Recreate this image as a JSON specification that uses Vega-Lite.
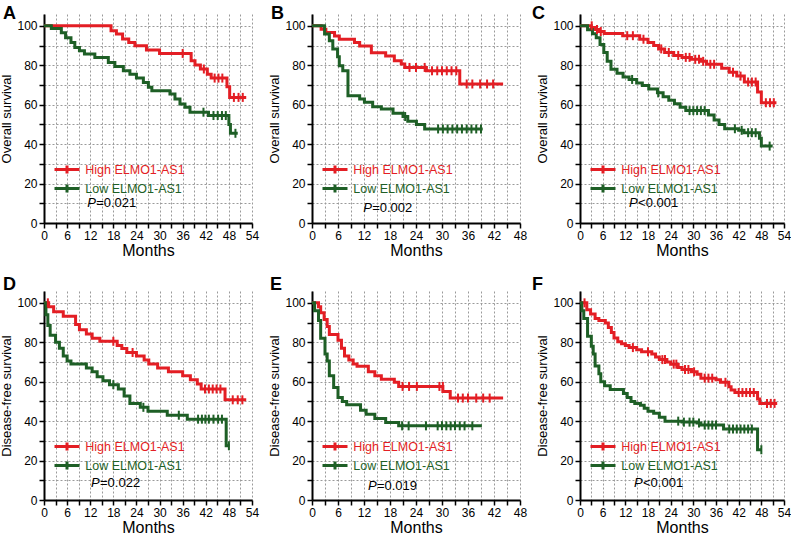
{
 "$schema": "https://vega.github.io/schema/vega-lite/v6.json",
 "background": "white",
 "padding": {"left": 0, "top": 4, "right": 1, "bottom": 2},
 "config": {
  "font": "Liberation Sans",
  "view": {"stroke": null},
  "axis": {"domainColor": "#000", "domainWidth": 2, "tickColor": "#000", "tickWidth": 1.5, "tickSize": 5, "labelFontSize": 12, "labelColor": "#000", "labelPadding": 2, "labelFlush": false, "labelOverlap": false, "titleColor": "#000", "titleFontWeight": "normal", "grid": true, "gridColor": "#9a9a9a", "gridDash": [2, 2], "gridWidth": 1, "tickCount": 100, "format": "d"},
  "axisX": {"titleFontSize": 16, "titlePadding": 1},
  "axisY": {"titleFontSize": 13, "titlePadding": 3},
  "title": {"anchor": "start", "frame": "group", "fontSize": 18, "fontWeight": "bold", "color": "#000", "baseline": "alphabetic", "offset": 0, "orient": "top"},
  "tick": {"thickness": 2, "size": 9, "opacity": 1},
  "text": {"fontSize": 13, "color": "#000"}
 },
 "datasets": {
  "steps": [
   {"panel":"A","group":"High","month":0,"surv":100},{"panel":"A","group":"High","month":17.4,"surv":97.5},{"panel":"A","group":"High","month":18.8,"surv":95.8},{"panel":"A","group":"High","month":20.4,"surv":93.3},{"panel":"A","group":"High","month":22,"surv":91.6},{"panel":"A","group":"High","month":23.6,"surv":89.9},{"panel":"A","group":"High","month":26.6,"surv":87.7},{"panel":"A","group":"High","month":30,"surv":86},{"panel":"A","group":"High","month":38.2,"surv":82.3},{"panel":"A","group":"High","month":39.2,"surv":80.1},{"panel":"A","group":"High","month":40.6,"surv":78.1},{"panel":"A","group":"High","month":42.4,"surv":75.5},{"panel":"A","group":"High","month":43.4,"surv":73.5},{"panel":"A","group":"High","month":47.5,"surv":69.1},{"panel":"A","group":"High","month":48.2,"surv":63.7},{"panel":"A","group":"High","month":52.5,"surv":63.7},
   {"panel":"A","group":"Low","month":0,"surv":100},{"panel":"A","group":"Low","month":1.9,"surv":98.6},{"panel":"A","group":"Low","month":4.5,"surv":96.5},{"panel":"A","group":"Low","month":5.6,"surv":94},{"panel":"A","group":"Low","month":7,"surv":91.5},{"panel":"A","group":"Low","month":8,"surv":89},{"panel":"A","group":"Low","month":9.2,"surv":87.3},{"panel":"A","group":"Low","month":10.5,"surv":85.7},{"panel":"A","group":"Low","month":13.2,"surv":84},{"panel":"A","group":"Low","month":16.7,"surv":81.4},{"panel":"A","group":"Low","month":18.4,"surv":79.4},{"panel":"A","group":"Low","month":20.6,"surv":77.2},{"panel":"A","group":"Low","month":22.3,"surv":75.5},{"panel":"A","group":"Low","month":24,"surv":73.5},{"panel":"A","group":"Low","month":25.8,"surv":71.3},{"panel":"A","group":"Low","month":27.1,"surv":68.8},{"panel":"A","group":"Low","month":28,"surv":67.1},{"panel":"A","group":"Low","month":32.7,"surv":65.4},{"panel":"A","group":"Low","month":34,"surv":62.9},{"panel":"A","group":"Low","month":35.3,"surv":60.4},{"panel":"A","group":"Low","month":36.6,"surv":58.7},{"panel":"A","group":"Low","month":37.9,"surv":56.2},{"panel":"A","group":"Low","month":42.7,"surv":54.5},{"panel":"A","group":"Low","month":48,"surv":50},{"panel":"A","group":"Low","month":48.4,"surv":45.5},{"panel":"A","group":"Low","month":50.3,"surv":45.5},
   {"panel":"B","group":"High","month":0,"surv":100},{"panel":"B","group":"High","month":2.1,"surv":98.3},{"panel":"B","group":"High","month":3.2,"surv":96.6},{"panel":"B","group":"High","month":5.2,"surv":94.9},{"panel":"B","group":"High","month":6.3,"surv":93.2},{"panel":"B","group":"High","month":9.8,"surv":91.5},{"panel":"B","group":"High","month":11,"surv":89.8},{"panel":"B","group":"High","month":13.7,"surv":86.4},{"panel":"B","group":"High","month":17,"surv":84.7},{"panel":"B","group":"High","month":19,"surv":82.3},{"panel":"B","group":"High","month":20.6,"surv":80.6},{"panel":"B","group":"High","month":21.4,"surv":78.9},{"panel":"B","group":"High","month":26.4,"surv":77.2},{"panel":"B","group":"High","month":34.1,"surv":70.5},{"panel":"B","group":"High","month":44.1,"surv":70.5},
   {"panel":"B","group":"Low","month":0,"surv":100},{"panel":"B","group":"Low","month":2.9,"surv":95.8},{"panel":"B","group":"Low","month":4,"surv":92.4},{"panel":"B","group":"Low","month":4.8,"surv":88.2},{"panel":"B","group":"Low","month":5.9,"surv":84.3},{"panel":"B","group":"Low","month":6.3,"surv":79.8},{"panel":"B","group":"Low","month":7.1,"surv":77.2},{"panel":"B","group":"Low","month":8.3,"surv":64.6},{"panel":"B","group":"Low","month":11,"surv":62.9},{"panel":"B","group":"Low","month":12.1,"surv":61.2},{"panel":"B","group":"Low","month":14,"surv":59},{"panel":"B","group":"Low","month":16,"surv":57.8},{"panel":"B","group":"Low","month":18.7,"surv":55.6},{"panel":"B","group":"Low","month":21,"surv":54},{"panel":"B","group":"Low","month":22.1,"surv":51.6},{"panel":"B","group":"Low","month":24.1,"surv":49.9},{"panel":"B","group":"Low","month":26,"surv":47.7},{"panel":"B","group":"Low","month":39.4,"surv":47.7},
   {"panel":"C","group":"High","month":0,"surv":100},{"panel":"C","group":"High","month":3,"surv":99.2},{"panel":"C","group":"High","month":4.1,"surv":98.1},{"panel":"C","group":"High","month":5,"surv":97.1},{"panel":"C","group":"High","month":6.4,"surv":96.1},{"panel":"C","group":"High","month":11.3,"surv":95},{"panel":"C","group":"High","month":15.8,"surv":93.2},{"panel":"C","group":"High","month":18,"surv":91.5},{"panel":"C","group":"High","month":19.5,"surv":90},{"panel":"C","group":"High","month":20.8,"surv":88.3},{"panel":"C","group":"High","month":22.4,"surv":86.5},{"panel":"C","group":"High","month":24.8,"surv":85},{"panel":"C","group":"High","month":27,"surv":84},{"panel":"C","group":"High","month":29.5,"surv":83},{"panel":"C","group":"High","month":32,"surv":82},{"panel":"C","group":"High","month":33.5,"surv":80.5},{"panel":"C","group":"High","month":37.5,"surv":78.5},{"panel":"C","group":"High","month":39.5,"surv":76.5},{"panel":"C","group":"High","month":41.5,"surv":74.5},{"panel":"C","group":"High","month":43.5,"surv":71.5},{"panel":"C","group":"High","month":47,"surv":66.5},{"panel":"C","group":"High","month":48,"surv":61},{"panel":"C","group":"High","month":52,"surv":61},
   {"panel":"C","group":"Low","month":0,"surv":100},{"panel":"C","group":"Low","month":2,"surv":98},{"panel":"C","group":"Low","month":3.3,"surv":96},{"panel":"C","group":"Low","month":4.3,"surv":94},{"panel":"C","group":"Low","month":5.3,"surv":90.5},{"panel":"C","group":"Low","month":6.3,"surv":86.5},{"panel":"C","group":"Low","month":7.2,"surv":82},{"panel":"C","group":"Low","month":8.2,"surv":78},{"panel":"C","group":"Low","month":9.8,"surv":76},{"panel":"C","group":"Low","month":11.4,"surv":74},{"panel":"C","group":"Low","month":13,"surv":72.8},{"panel":"C","group":"Low","month":15,"surv":71},{"panel":"C","group":"Low","month":16.5,"surv":69.8},{"panel":"C","group":"Low","month":18.2,"surv":68},{"panel":"C","group":"Low","month":20.5,"surv":66},{"panel":"C","group":"Low","month":22,"surv":64},{"panel":"C","group":"Low","month":23.5,"surv":62.2},{"panel":"C","group":"Low","month":25,"surv":60.5},{"panel":"C","group":"Low","month":26.5,"surv":58.7},{"panel":"C","group":"Low","month":28,"surv":57},{"panel":"C","group":"Low","month":34,"surv":54.8},{"panel":"C","group":"Low","month":35.5,"surv":52.2},{"panel":"C","group":"Low","month":36.8,"surv":50},{"panel":"C","group":"Low","month":38.3,"surv":47.8},{"panel":"C","group":"Low","month":42,"surv":47},{"panel":"C","group":"Low","month":43.4,"surv":45.8},{"panel":"C","group":"Low","month":47.5,"surv":43},{"panel":"C","group":"Low","month":48,"surv":39},{"panel":"C","group":"Low","month":51,"surv":39},
   {"panel":"D","group":"High","month":0,"surv":100},{"panel":"D","group":"High","month":1.2,"surv":98},{"panel":"D","group":"High","month":2.5,"surv":95.5},{"panel":"D","group":"High","month":5,"surv":93.2},{"panel":"D","group":"High","month":8.2,"surv":89},{"panel":"D","group":"High","month":9.2,"surv":86.4},{"panel":"D","group":"High","month":11,"surv":84.2},{"panel":"D","group":"High","month":12.5,"surv":82},{"panel":"D","group":"High","month":14.5,"surv":80.5},{"panel":"D","group":"High","month":19,"surv":78.4},{"panel":"D","group":"High","month":20.2,"surv":76.8},{"panel":"D","group":"High","month":21.5,"surv":74.8},{"panel":"D","group":"High","month":24,"surv":73},{"panel":"D","group":"High","month":26,"surv":71},{"panel":"D","group":"High","month":27.2,"surv":69},{"panel":"D","group":"High","month":29.5,"surv":67},{"panel":"D","group":"High","month":32.3,"surv":65},{"panel":"D","group":"High","month":36,"surv":63},{"panel":"D","group":"High","month":38,"surv":61},{"panel":"D","group":"High","month":39.8,"surv":58.8},{"panel":"D","group":"High","month":40.8,"surv":56.3},{"panel":"D","group":"High","month":47,"surv":50.8},{"panel":"D","group":"High","month":52.5,"surv":50.8},
   {"panel":"D","group":"Low","month":0,"surv":100},{"panel":"D","group":"Low","month":0.5,"surv":94},{"panel":"D","group":"Low","month":1,"surv":88.5},{"panel":"D","group":"Low","month":1.6,"surv":83.5},{"panel":"D","group":"Low","month":3,"surv":80},{"panel":"D","group":"Low","month":4,"surv":77},{"panel":"D","group":"Low","month":5,"surv":73},{"panel":"D","group":"Low","month":6,"surv":70.5},{"panel":"D","group":"Low","month":7,"surv":69},{"panel":"D","group":"Low","month":11,"surv":67},{"panel":"D","group":"Low","month":12.5,"surv":65},{"panel":"D","group":"Low","month":13.8,"surv":62.5},{"panel":"D","group":"Low","month":15.3,"surv":60.5},{"panel":"D","group":"Low","month":17,"surv":58.5},{"panel":"D","group":"Low","month":19.3,"surv":56.3},{"panel":"D","group":"Low","month":20.8,"surv":52.8},{"panel":"D","group":"Low","month":22.3,"surv":49},{"panel":"D","group":"Low","month":25,"surv":47},{"panel":"D","group":"Low","month":27,"surv":45},{"panel":"D","group":"Low","month":32,"surv":43},{"panel":"D","group":"Low","month":37.2,"surv":41},{"panel":"D","group":"Low","month":47.3,"surv":27.5},{"panel":"D","group":"Low","month":48.2,"surv":27.5},
   {"panel":"E","group":"High","month":0,"surv":100},{"panel":"E","group":"High","month":1.5,"surv":98},{"panel":"E","group":"High","month":2,"surv":95},{"panel":"E","group":"High","month":2.8,"surv":91.5},{"panel":"E","group":"High","month":3.5,"surv":88},{"panel":"E","group":"High","month":4,"surv":84},{"panel":"E","group":"High","month":6,"surv":81},{"panel":"E","group":"High","month":6.8,"surv":77},{"panel":"E","group":"High","month":7.5,"surv":73},{"panel":"E","group":"High","month":8.5,"surv":71},{"panel":"E","group":"High","month":9.5,"surv":69},{"panel":"E","group":"High","month":10.4,"surv":67.8},{"panel":"E","group":"High","month":13,"surv":65},{"panel":"E","group":"High","month":14.5,"surv":63},{"panel":"E","group":"High","month":16,"surv":61.3},{"panel":"E","group":"High","month":19,"surv":59.7},{"panel":"E","group":"High","month":20,"surv":57.6},{"panel":"E","group":"High","month":30.2,"surv":55},{"panel":"E","group":"High","month":31.9,"surv":51.7},{"panel":"E","group":"High","month":44.1,"surv":51.7},
   {"panel":"E","group":"Low","month":0,"surv":100},{"panel":"E","group":"Low","month":0.6,"surv":96},{"panel":"E","group":"Low","month":1.5,"surv":91},{"panel":"E","group":"Low","month":2,"surv":82},{"panel":"E","group":"Low","month":3,"surv":74},{"panel":"E","group":"Low","month":3.5,"surv":70.5},{"panel":"E","group":"Low","month":4,"surv":63},{"panel":"E","group":"Low","month":5,"surv":57},{"panel":"E","group":"Low","month":6,"surv":52},{"panel":"E","group":"Low","month":7,"surv":50},{"panel":"E","group":"Low","month":8,"surv":48.3},{"panel":"E","group":"Low","month":11.2,"surv":45.5},{"panel":"E","group":"Low","month":12.5,"surv":43.5},{"panel":"E","group":"Low","month":14.5,"surv":41.3},{"panel":"E","group":"Low","month":17,"surv":39.3},{"panel":"E","group":"Low","month":20,"surv":37.6},{"panel":"E","group":"Low","month":39.2,"surv":37.6},
   {"panel":"F","group":"High","month":0,"surv":100},{"panel":"F","group":"High","month":1.8,"surv":96.5},{"panel":"F","group":"High","month":2.8,"surv":94.3},{"panel":"F","group":"High","month":4,"surv":92},{"panel":"F","group":"High","month":5,"surv":91},{"panel":"F","group":"High","month":6.7,"surv":89.8},{"panel":"F","group":"High","month":7.5,"surv":87.5},{"panel":"F","group":"High","month":8.3,"surv":85},{"panel":"F","group":"High","month":9,"surv":82.2},{"panel":"F","group":"High","month":10,"surv":80.2},{"panel":"F","group":"High","month":11,"surv":79.3},{"panel":"F","group":"High","month":12,"surv":78.3},{"panel":"F","group":"High","month":13,"surv":77.3},{"panel":"F","group":"High","month":15,"surv":76.2},{"panel":"F","group":"High","month":16.3,"surv":75.2},{"panel":"F","group":"High","month":19,"surv":74},{"panel":"F","group":"High","month":20,"surv":72.5},{"panel":"F","group":"High","month":21,"surv":71.2},{"panel":"F","group":"High","month":23,"surv":70},{"panel":"F","group":"High","month":24,"surv":68.9},{"panel":"F","group":"High","month":26,"surv":67.2},{"panel":"F","group":"High","month":27,"surv":66.2},{"panel":"F","group":"High","month":29.5,"surv":65},{"panel":"F","group":"High","month":31,"surv":63.8},{"panel":"F","group":"High","month":32,"surv":61.8},{"panel":"F","group":"High","month":36,"surv":61},{"panel":"F","group":"High","month":37.2,"surv":59.7},{"panel":"F","group":"High","month":39.4,"surv":57.5},{"panel":"F","group":"High","month":40,"surv":55.8},{"panel":"F","group":"High","month":41,"surv":54.5},{"panel":"F","group":"High","month":47,"surv":51.2},{"panel":"F","group":"High","month":47.6,"surv":49},{"panel":"F","group":"High","month":52.2,"surv":49},
   {"panel":"F","group":"Low","month":0,"surv":100},{"panel":"F","group":"Low","month":0.5,"surv":96},{"panel":"F","group":"Low","month":1,"surv":92},{"panel":"F","group":"Low","month":2,"surv":83},{"panel":"F","group":"Low","month":3,"surv":78},{"panel":"F","group":"Low","month":3.5,"surv":74},{"panel":"F","group":"Low","month":4,"surv":68},{"panel":"F","group":"Low","month":5,"surv":64},{"panel":"F","group":"Low","month":5.5,"surv":60},{"panel":"F","group":"Low","month":6.5,"surv":58},{"panel":"F","group":"Low","month":8,"surv":56},{"panel":"F","group":"Low","month":11.5,"surv":54},{"panel":"F","group":"Low","month":12.5,"surv":52},{"panel":"F","group":"Low","month":13.5,"surv":50},{"panel":"F","group":"Low","month":14.5,"surv":49},{"panel":"F","group":"Low","month":16,"surv":48},{"panel":"F","group":"Low","month":17,"surv":46.5},{"panel":"F","group":"Low","month":18,"surv":45},{"panel":"F","group":"Low","month":19.5,"surv":44},{"panel":"F","group":"Low","month":21,"surv":42},{"panel":"F","group":"Low","month":22.5,"surv":40},{"panel":"F","group":"Low","month":27,"surv":39.5},{"panel":"F","group":"Low","month":31,"surv":39},{"panel":"F","group":"Low","month":32,"surv":38},{"panel":"F","group":"Low","month":38,"surv":36},{"panel":"F","group":"Low","month":47,"surv":25.5},{"panel":"F","group":"Low","month":48,"surv":25.5}
  ],
  "censor": [
   {"panel":"A","group":"High","month":36,"surv":86},{"panel":"A","group":"High","month":41.5,"surv":78.1},{"panel":"A","group":"High","month":44.3,"surv":73.5},{"panel":"A","group":"High","month":45.3,"surv":73.5},{"panel":"A","group":"High","month":46.3,"surv":73.5},{"panel":"A","group":"High","month":49.3,"surv":63.7},{"panel":"A","group":"High","month":50.5,"surv":63.7},{"panel":"A","group":"High","month":51.6,"surv":63.7},
   {"panel":"A","group":"Low","month":41.4,"surv":56.2},{"panel":"A","group":"Low","month":44,"surv":54.5},{"panel":"A","group":"Low","month":45.1,"surv":54.5},{"panel":"A","group":"Low","month":46.2,"surv":54.5},{"panel":"A","group":"Low","month":47.2,"surv":54.5},{"panel":"A","group":"Low","month":49.7,"surv":45.5},
   {"panel":"B","group":"High","month":22.5,"surv":78.9},{"panel":"B","group":"High","month":24,"surv":78.9},{"panel":"B","group":"High","month":26,"surv":78.9},{"panel":"B","group":"High","month":27.7,"surv":77.2},{"panel":"B","group":"High","month":28.9,"surv":77.2},{"panel":"B","group":"High","month":30,"surv":77.2},{"panel":"B","group":"High","month":31.1,"surv":77.2},{"panel":"B","group":"High","month":32.2,"surv":77.2},{"panel":"B","group":"High","month":33.3,"surv":77.2},{"panel":"B","group":"High","month":35.7,"surv":70.5},{"panel":"B","group":"High","month":37,"surv":70.5},{"panel":"B","group":"High","month":38.8,"surv":70.5},{"panel":"B","group":"High","month":40.4,"surv":70.5},{"panel":"B","group":"High","month":41.8,"surv":70.5},
   {"panel":"B","group":"Low","month":21.5,"surv":54},{"panel":"B","group":"Low","month":29.1,"surv":47.7},{"panel":"B","group":"Low","month":30.2,"surv":47.7},{"panel":"B","group":"Low","month":31.3,"surv":47.7},{"panel":"B","group":"Low","month":32.4,"surv":47.7},{"panel":"B","group":"Low","month":33.5,"surv":47.7},{"panel":"B","group":"Low","month":34.6,"surv":47.7},{"panel":"B","group":"Low","month":35.7,"surv":47.7},{"panel":"B","group":"Low","month":36.8,"surv":47.7},{"panel":"B","group":"Low","month":37.9,"surv":47.7},{"panel":"B","group":"Low","month":39,"surv":47.7},
   {"panel":"C","group":"High","month":3.1,"surv":100},{"panel":"C","group":"High","month":4.5,"surv":98.1},{"panel":"C","group":"High","month":5.5,"surv":97.1},{"panel":"C","group":"High","month":12.5,"surv":95},{"panel":"C","group":"High","month":14,"surv":95},{"panel":"C","group":"High","month":16.8,"surv":93.2},{"panel":"C","group":"High","month":21.5,"surv":88.3},{"panel":"C","group":"High","month":23.5,"surv":86.5},{"panel":"C","group":"High","month":26,"surv":85},{"panel":"C","group":"High","month":28,"surv":84},{"panel":"C","group":"High","month":29,"surv":84},{"panel":"C","group":"High","month":30.5,"surv":83},{"panel":"C","group":"High","month":31.5,"surv":83},{"panel":"C","group":"High","month":32.6,"surv":82},{"panel":"C","group":"High","month":34.5,"surv":80.5},{"panel":"C","group":"High","month":35.5,"surv":80.5},{"panel":"C","group":"High","month":40.5,"surv":76.5},{"panel":"C","group":"High","month":42.5,"surv":74.5},{"panel":"C","group":"High","month":44.5,"surv":71.5},{"panel":"C","group":"High","month":45.5,"surv":71.5},{"panel":"C","group":"High","month":46.5,"surv":71.5},{"panel":"C","group":"High","month":49.2,"surv":61},{"panel":"C","group":"High","month":50.3,"surv":61},{"panel":"C","group":"High","month":51.3,"surv":61},
   {"panel":"C","group":"Low","month":13.8,"surv":72.8},{"panel":"C","group":"Low","month":20.7,"surv":66},{"panel":"C","group":"Low","month":29,"surv":57},{"panel":"C","group":"Low","month":30,"surv":57},{"panel":"C","group":"Low","month":31,"surv":57},{"panel":"C","group":"Low","month":32,"surv":57},{"panel":"C","group":"Low","month":33,"surv":57},{"panel":"C","group":"Low","month":41,"surv":47.8},{"panel":"C","group":"Low","month":42.8,"surv":47},{"panel":"C","group":"Low","month":44.5,"surv":45.8},{"panel":"C","group":"Low","month":45.5,"surv":45.8},{"panel":"C","group":"Low","month":46.5,"surv":45.8},{"panel":"C","group":"Low","month":50.2,"surv":39},
   {"panel":"D","group":"High","month":1,"surv":100},{"panel":"D","group":"High","month":18,"surv":80.5},{"panel":"D","group":"High","month":23,"surv":74.8},{"panel":"D","group":"High","month":41.8,"surv":56.3},{"panel":"D","group":"High","month":42.8,"surv":56.3},{"panel":"D","group":"High","month":43.8,"surv":56.3},{"panel":"D","group":"High","month":44.8,"surv":56.3},{"panel":"D","group":"High","month":45.8,"surv":56.3},{"panel":"D","group":"High","month":49,"surv":50.8},{"panel":"D","group":"High","month":50.3,"surv":50.8},{"panel":"D","group":"High","month":51.5,"surv":50.8},
   {"panel":"D","group":"Low","month":18,"surv":58.5},{"panel":"D","group":"Low","month":25.8,"surv":47},{"panel":"D","group":"Low","month":35,"surv":43},{"panel":"D","group":"Low","month":40,"surv":41},{"panel":"D","group":"Low","month":41,"surv":41},{"panel":"D","group":"Low","month":41.9,"surv":41},{"panel":"D","group":"Low","month":42.8,"surv":41},{"panel":"D","group":"Low","month":44,"surv":41},{"panel":"D","group":"Low","month":45.2,"surv":41},{"panel":"D","group":"Low","month":46.2,"surv":41},{"panel":"D","group":"Low","month":48,"surv":27.5},
   {"panel":"E","group":"High","month":20.9,"surv":57.6},{"panel":"E","group":"High","month":22.4,"surv":57.6},{"panel":"E","group":"High","month":24.2,"surv":57.6},{"panel":"E","group":"High","month":29.4,"surv":57.6},{"panel":"E","group":"High","month":30.2,"surv":57.6},{"panel":"E","group":"High","month":33.7,"surv":51.7},{"panel":"E","group":"High","month":34.8,"surv":51.7},{"panel":"E","group":"High","month":36,"surv":51.7},{"panel":"E","group":"High","month":37.9,"surv":51.7},{"panel":"E","group":"High","month":39.5,"surv":51.7},{"panel":"E","group":"High","month":41,"surv":51.7},
   {"panel":"E","group":"Low","month":20.8,"surv":37.6},{"panel":"E","group":"Low","month":22.3,"surv":37.6},{"panel":"E","group":"Low","month":26.3,"surv":37.6},{"panel":"E","group":"Low","month":29,"surv":37.6},{"panel":"E","group":"Low","month":30,"surv":37.6},{"panel":"E","group":"Low","month":31,"surv":37.6},{"panel":"E","group":"Low","month":32,"surv":37.6},{"panel":"E","group":"Low","month":33,"surv":37.6},{"panel":"E","group":"Low","month":34.1,"surv":37.6},{"panel":"E","group":"Low","month":35.2,"surv":37.6},{"panel":"E","group":"Low","month":37,"surv":37.6},
   {"panel":"F","group":"High","month":1.2,"surv":100},{"panel":"F","group":"High","month":14,"surv":77.3},{"panel":"F","group":"High","month":18,"surv":75.2},{"panel":"F","group":"High","month":21.8,"surv":71.2},{"panel":"F","group":"High","month":22.5,"surv":71.2},{"panel":"F","group":"High","month":24.8,"surv":68.9},{"panel":"F","group":"High","month":25.5,"surv":68.9},{"panel":"F","group":"High","month":27.8,"surv":66.2},{"panel":"F","group":"High","month":28.7,"surv":66.2},{"panel":"F","group":"High","month":30.2,"surv":65},{"panel":"F","group":"High","month":33,"surv":61.8},{"panel":"F","group":"High","month":34,"surv":61.8},{"panel":"F","group":"High","month":35,"surv":61.8},{"panel":"F","group":"High","month":38.5,"surv":59.7},{"panel":"F","group":"High","month":42,"surv":54.5},{"panel":"F","group":"High","month":43,"surv":54.5},{"panel":"F","group":"High","month":44,"surv":54.5},{"panel":"F","group":"High","month":45,"surv":54.5},{"panel":"F","group":"High","month":46,"surv":54.5},{"panel":"F","group":"High","month":49.5,"surv":49},{"panel":"F","group":"High","month":50.5,"surv":49},{"panel":"F","group":"High","month":51.5,"surv":49},
   {"panel":"F","group":"Low","month":26,"surv":40},{"panel":"F","group":"Low","month":27.5,"surv":39.5},{"panel":"F","group":"Low","month":29,"surv":39.5},{"panel":"F","group":"Low","month":30,"surv":39.5},{"panel":"F","group":"Low","month":31.5,"surv":39},{"panel":"F","group":"Low","month":33,"surv":38},{"panel":"F","group":"Low","month":34,"surv":38},{"panel":"F","group":"Low","month":35,"surv":38},{"panel":"F","group":"Low","month":36,"surv":38},{"panel":"F","group":"Low","month":39.5,"surv":36},{"panel":"F","group":"Low","month":40.5,"surv":36},{"panel":"F","group":"Low","month":41.5,"surv":36},{"panel":"F","group":"Low","month":42.5,"surv":36},{"panel":"F","group":"Low","month":43.5,"surv":36},{"panel":"F","group":"Low","month":44.5,"surv":36},{"panel":"F","group":"Low","month":45.5,"surv":36},{"panel":"F","group":"Low","month":48,"surv":25.5}
  ],
  "pvalues": [
   {"panel":"A","label":"=0.021"},{"panel":"B","label":"=0.002"},{"panel":"C","label":"<0.001"},
   {"panel":"D","label":"=0.022"},{"panel":"E","label":"=0.019"},{"panel":"F","label":"<0.001"}
  ]
 },
 "columns": 3,
 "spacing": {"row": 68, "column": 60},
 "bounds": "flush",
 "resolve": {"scale": {"color": "independent"}, "legend": {"color": "independent"}},
 "concat": [
    {
     "width": 208, "height": 209,
     "title": {"text": "A", "dx": -41, "dy": 12.5},
     "layer": [
      {"data": {"name": "steps"}, "transform": [{"filter": "datum.panel === 'A'"}],
       "mark": {"type": "line", "interpolate": "step-after", "strokeWidth": 3},
       "encoding": {
        "x": {"field": "month", "type": "quantitative", "scale": {"domain": [0, 54], "nice": false}, "axis": {"values": [0,3,6,9,12,15,18,21,24,27,30,33,36,39,42,45,48,51,54], "tickCount": 100, "format": "d", "labelExpr": "datum.value % 6 === 0 ? datum.label : ''", "labelOverlap": false, "labelFlush": false, "title": "Months"}},
        "y": {"field": "surv", "type": "quantitative", "scale": {"domain": [0, 106], "nice": false}, "axis": {"values": [0,10,20,30,40,50,60,70,80,90,100], "tickCount": 100, "format": "d", "labelExpr": "datum.value % 20 === 0 ? datum.label : ''", "labelOverlap": false, "labelFlush": false, "title": "Overall survival"}},
        "color": {"field": "group", "type": "nominal", "scale": {"domain": ["High", "Low"], "range": ["#e31e24", "#1e5f26"]},
         "legend": {"title": null, "orient": "none", "legendX": 15, "legendY": 147.5, "symbolType": "M-2,0H2M0,-0.65V0.65", "symbolSize": 156.25, "symbolStrokeWidth": 3, "labelFontSize": 12.5, "labelOffset": 10.25, "rowPadding": -3, "padding": 0, "labelExpr": "datum.label + ' ELMO1-AS1'", "encode": {"labels": {"update": {"fill": {"signal": "datum.value === 'High' ? '#e31e24' : '#1e5f26'"}}}}}}
       }},
      {"data": {"name": "censor"}, "transform": [{"filter": "datum.panel === 'A'"}],
       "mark": {"type": "tick", "orient": "vertical"},
       "encoding": {"x": {"field": "month", "type": "quantitative"}, "y": {"field": "surv", "type": "quantitative"}, "color": {"field": "group", "type": "nominal", "legend": null}}},
      {"data": {"name": "pvalues"}, "transform": [{"filter": "datum.panel === 'A'"}],
       "mark": {"type": "text", "text": "P", "fontStyle": "italic", "align": "left", "baseline": "middle"},
       "encoding": {"x": {"datum": 11.2}, "y": {"datum": 10}}},
      {"data": {"name": "pvalues"}, "transform": [{"filter": "datum.panel === 'A'"}],
       "mark": {"type": "text", "align": "left", "baseline": "middle", "dx": 9},
       "encoding": {"x": {"datum": 11.2}, "y": {"datum": 10}, "text": {"field": "label"}}}
     ]
    },
    {
     "width": 208, "height": 209,
     "title": {"text": "B", "dx": -41, "dy": 12.5},
     "layer": [
      {"data": {"name": "steps"}, "transform": [{"filter": "datum.panel === 'B'"}],
       "mark": {"type": "line", "interpolate": "step-after", "strokeWidth": 3},
       "encoding": {
        "x": {"field": "month", "type": "quantitative", "scale": {"domain": [0, 48], "nice": false}, "axis": {"values": [0,3,6,9,12,15,18,21,24,27,30,33,36,39,42,45,48], "tickCount": 100, "format": "d", "labelExpr": "datum.value % 6 === 0 ? datum.label : ''", "labelOverlap": false, "labelFlush": false, "title": "Months"}},
        "y": {"field": "surv", "type": "quantitative", "scale": {"domain": [0, 106], "nice": false}, "axis": {"values": [0,10,20,30,40,50,60,70,80,90,100], "tickCount": 100, "format": "d", "labelExpr": "datum.value % 20 === 0 ? datum.label : ''", "labelOverlap": false, "labelFlush": false, "title": "Overall survival"}},
        "color": {"field": "group", "type": "nominal", "scale": {"domain": ["High", "Low"], "range": ["#e31e24", "#1e5f26"]},
         "legend": {"title": null, "orient": "none", "legendX": 15, "legendY": 147.5, "symbolType": "M-2,0H2M0,-0.65V0.65", "symbolSize": 156.25, "symbolStrokeWidth": 3, "labelFontSize": 12.5, "labelOffset": 10.25, "rowPadding": -3, "padding": 0, "labelExpr": "datum.label + ' ELMO1-AS1'", "encode": {"labels": {"update": {"fill": {"signal": "datum.value === 'High' ? '#e31e24' : '#1e5f26'"}}}}}}
       }},
      {"data": {"name": "censor"}, "transform": [{"filter": "datum.panel === 'B'"}],
       "mark": {"type": "tick", "orient": "vertical"},
       "encoding": {"x": {"field": "month", "type": "quantitative"}, "y": {"field": "surv", "type": "quantitative"}, "color": {"field": "group", "type": "nominal", "legend": null}}},
      {"data": {"name": "pvalues"}, "transform": [{"filter": "datum.panel === 'B'"}],
       "mark": {"type": "text", "text": "P", "fontStyle": "italic", "align": "left", "baseline": "middle"},
       "encoding": {"x": {"datum": 11.8}, "y": {"datum": 7.5}}},
      {"data": {"name": "pvalues"}, "transform": [{"filter": "datum.panel === 'B'"}],
       "mark": {"type": "text", "align": "left", "baseline": "middle", "dx": 9},
       "encoding": {"x": {"datum": 11.8}, "y": {"datum": 7.5}, "text": {"field": "label"}}}
     ]
    },
    {
     "width": 204, "height": 209,
     "title": {"text": "C", "dx": -48, "dy": 12.5},
     "layer": [
      {"data": {"name": "steps"}, "transform": [{"filter": "datum.panel === 'C'"}],
       "mark": {"type": "line", "interpolate": "step-after", "strokeWidth": 3},
       "encoding": {
        "x": {"field": "month", "type": "quantitative", "scale": {"domain": [0, 54], "nice": false}, "axis": {"values": [0,3,6,9,12,15,18,21,24,27,30,33,36,39,42,45,48,51,54], "tickCount": 100, "format": "d", "labelExpr": "datum.value % 6 === 0 ? datum.label : ''", "labelOverlap": false, "labelFlush": false, "title": "Months"}},
        "y": {"field": "surv", "type": "quantitative", "scale": {"domain": [0, 106], "nice": false}, "axis": {"values": [0,10,20,30,40,50,60,70,80,90,100], "tickCount": 100, "format": "d", "labelExpr": "datum.value % 20 === 0 ? datum.label : ''", "labelOverlap": false, "labelFlush": false, "title": "Overall survival"}},
        "color": {"field": "group", "type": "nominal", "scale": {"domain": ["High", "Low"], "range": ["#e31e24", "#1e5f26"]},
         "legend": {"title": null, "orient": "none", "legendX": 15, "legendY": 147.5, "symbolType": "M-2,0H2M0,-0.65V0.65", "symbolSize": 156.25, "symbolStrokeWidth": 3, "labelFontSize": 12.5, "labelOffset": 10.25, "rowPadding": -3, "padding": 0, "labelExpr": "datum.label + ' ELMO1-AS1'", "encode": {"labels": {"update": {"fill": {"signal": "datum.value === 'High' ? '#e31e24' : '#1e5f26'"}}}}}}
       }},
      {"data": {"name": "censor"}, "transform": [{"filter": "datum.panel === 'C'"}],
       "mark": {"type": "tick", "orient": "vertical"},
       "encoding": {"x": {"field": "month", "type": "quantitative"}, "y": {"field": "surv", "type": "quantitative"}, "color": {"field": "group", "type": "nominal", "legend": null}}},
      {"data": {"name": "pvalues"}, "transform": [{"filter": "datum.panel === 'C'"}],
       "mark": {"type": "text", "text": "P", "fontStyle": "italic", "align": "left", "baseline": "middle"},
       "encoding": {"x": {"datum": 13}, "y": {"datum": 10}}},
      {"data": {"name": "pvalues"}, "transform": [{"filter": "datum.panel === 'C'"}],
       "mark": {"type": "text", "align": "left", "baseline": "middle", "dx": 9},
       "encoding": {"x": {"datum": 13}, "y": {"datum": 10}, "text": {"field": "label"}}}
     ]
    },
    {
     "width": 208, "height": 209,
     "title": {"text": "D", "dx": -41, "dy": 7},
     "layer": [
      {"data": {"name": "steps"}, "transform": [{"filter": "datum.panel === 'D'"}],
       "mark": {"type": "line", "interpolate": "step-after", "strokeWidth": 3},
       "encoding": {
        "x": {"field": "month", "type": "quantitative", "scale": {"domain": [0, 54], "nice": false}, "axis": {"values": [0,3,6,9,12,15,18,21,24,27,30,33,36,39,42,45,48,51,54], "tickCount": 100, "format": "d", "labelExpr": "datum.value % 6 === 0 ? datum.label : ''", "labelOverlap": false, "labelFlush": false, "title": "Months"}},
        "y": {"field": "surv", "type": "quantitative", "scale": {"domain": [0, 106], "nice": false}, "axis": {"values": [0,10,20,30,40,50,60,70,80,90,100], "tickCount": 100, "format": "d", "labelExpr": "datum.value % 20 === 0 ? datum.label : ''", "labelOverlap": false, "labelFlush": false, "title": "Disease-free survival"}},
        "color": {"field": "group", "type": "nominal", "scale": {"domain": ["High", "Low"], "range": ["#e31e24", "#1e5f26"]},
         "legend": {"title": null, "orient": "none", "legendX": 15, "legendY": 147.5, "symbolType": "M-2,0H2M0,-0.65V0.65", "symbolSize": 156.25, "symbolStrokeWidth": 3, "labelFontSize": 12.5, "labelOffset": 10.25, "rowPadding": -3, "padding": 0, "labelExpr": "datum.label + ' ELMO1-AS1'", "encode": {"labels": {"update": {"fill": {"signal": "datum.value === 'High' ? '#e31e24' : '#1e5f26'"}}}}}}
       }},
      {"data": {"name": "censor"}, "transform": [{"filter": "datum.panel === 'D'"}],
       "mark": {"type": "tick", "orient": "vertical"},
       "encoding": {"x": {"field": "month", "type": "quantitative"}, "y": {"field": "surv", "type": "quantitative"}, "color": {"field": "group", "type": "nominal", "legend": null}}},
      {"data": {"name": "pvalues"}, "transform": [{"filter": "datum.panel === 'D'"}],
       "mark": {"type": "text", "text": "P", "fontStyle": "italic", "align": "left", "baseline": "middle"},
       "encoding": {"x": {"datum": 12.2}, "y": {"datum": 8.6}}},
      {"data": {"name": "pvalues"}, "transform": [{"filter": "datum.panel === 'D'"}],
       "mark": {"type": "text", "align": "left", "baseline": "middle", "dx": 9},
       "encoding": {"x": {"datum": 12.2}, "y": {"datum": 8.6}, "text": {"field": "label"}}}
     ]
    },
    {
     "width": 208, "height": 209,
     "title": {"text": "E", "dx": -42, "dy": 7},
     "layer": [
      {"data": {"name": "steps"}, "transform": [{"filter": "datum.panel === 'E'"}],
       "mark": {"type": "line", "interpolate": "step-after", "strokeWidth": 3},
       "encoding": {
        "x": {"field": "month", "type": "quantitative", "scale": {"domain": [0, 48], "nice": false}, "axis": {"values": [0,3,6,9,12,15,18,21,24,27,30,33,36,39,42,45,48], "tickCount": 100, "format": "d", "labelExpr": "datum.value % 6 === 0 ? datum.label : ''", "labelOverlap": false, "labelFlush": false, "title": "Months"}},
        "y": {"field": "surv", "type": "quantitative", "scale": {"domain": [0, 106], "nice": false}, "axis": {"values": [0,10,20,30,40,50,60,70,80,90,100], "tickCount": 100, "format": "d", "labelExpr": "datum.value % 20 === 0 ? datum.label : ''", "labelOverlap": false, "labelFlush": false, "title": "Disease-free survival"}},
        "color": {"field": "group", "type": "nominal", "scale": {"domain": ["High", "Low"], "range": ["#e31e24", "#1e5f26"]},
         "legend": {"title": null, "orient": "none", "legendX": 15, "legendY": 147.5, "symbolType": "M-2,0H2M0,-0.65V0.65", "symbolSize": 156.25, "symbolStrokeWidth": 3, "labelFontSize": 12.5, "labelOffset": 10.25, "rowPadding": -3, "padding": 0, "labelExpr": "datum.label + ' ELMO1-AS1'", "encode": {"labels": {"update": {"fill": {"signal": "datum.value === 'High' ? '#e31e24' : '#1e5f26'"}}}}}}
       }},
      {"data": {"name": "censor"}, "transform": [{"filter": "datum.panel === 'E'"}],
       "mark": {"type": "tick", "orient": "vertical"},
       "encoding": {"x": {"field": "month", "type": "quantitative"}, "y": {"field": "surv", "type": "quantitative"}, "color": {"field": "group", "type": "nominal", "legend": null}}},
      {"data": {"name": "pvalues"}, "transform": [{"filter": "datum.panel === 'E'"}],
       "mark": {"type": "text", "text": "P", "fontStyle": "italic", "align": "left", "baseline": "middle"},
       "encoding": {"x": {"datum": 12.9}, "y": {"datum": 7}}},
      {"data": {"name": "pvalues"}, "transform": [{"filter": "datum.panel === 'E'"}],
       "mark": {"type": "text", "align": "left", "baseline": "middle", "dx": 9},
       "encoding": {"x": {"datum": 12.9}, "y": {"datum": 7}, "text": {"field": "label"}}}
     ]
    },
    {
     "width": 204, "height": 209,
     "title": {"text": "F", "dx": -48, "dy": 7},
     "layer": [
      {"data": {"name": "steps"}, "transform": [{"filter": "datum.panel === 'F'"}],
       "mark": {"type": "line", "interpolate": "step-after", "strokeWidth": 3},
       "encoding": {
        "x": {"field": "month", "type": "quantitative", "scale": {"domain": [0, 54], "nice": false}, "axis": {"values": [0,3,6,9,12,15,18,21,24,27,30,33,36,39,42,45,48,51,54], "tickCount": 100, "format": "d", "labelExpr": "datum.value % 6 === 0 ? datum.label : ''", "labelOverlap": false, "labelFlush": false, "title": "Months"}},
        "y": {"field": "surv", "type": "quantitative", "scale": {"domain": [0, 106], "nice": false}, "axis": {"values": [0,10,20,30,40,50,60,70,80,90,100], "tickCount": 100, "format": "d", "labelExpr": "datum.value % 20 === 0 ? datum.label : ''", "labelOverlap": false, "labelFlush": false, "title": "Disease-free survival"}},
        "color": {"field": "group", "type": "nominal", "scale": {"domain": ["High", "Low"], "range": ["#e31e24", "#1e5f26"]},
         "legend": {"title": null, "orient": "none", "legendX": 15, "legendY": 147.5, "symbolType": "M-2,0H2M0,-0.65V0.65", "symbolSize": 156.25, "symbolStrokeWidth": 3, "labelFontSize": 12.5, "labelOffset": 10.25, "rowPadding": -3, "padding": 0, "labelExpr": "datum.label + ' ELMO1-AS1'", "encode": {"labels": {"update": {"fill": {"signal": "datum.value === 'High' ? '#e31e24' : '#1e5f26'"}}}}}}
       }},
      {"data": {"name": "censor"}, "transform": [{"filter": "datum.panel === 'F'"}],
       "mark": {"type": "tick", "orient": "vertical"},
       "encoding": {"x": {"field": "month", "type": "quantitative"}, "y": {"field": "surv", "type": "quantitative"}, "color": {"field": "group", "type": "nominal", "legend": null}}},
      {"data": {"name": "pvalues"}, "transform": [{"filter": "datum.panel === 'F'"}],
       "mark": {"type": "text", "text": "P", "fontStyle": "italic", "align": "left", "baseline": "middle"},
       "encoding": {"x": {"datum": 14.3}, "y": {"datum": 8.6}}},
      {"data": {"name": "pvalues"}, "transform": [{"filter": "datum.panel === 'F'"}],
       "mark": {"type": "text", "align": "left", "baseline": "middle", "dx": 9},
       "encoding": {"x": {"datum": 14.3}, "y": {"datum": 8.6}, "text": {"field": "label"}}}
     ]
    }
 ]
}
